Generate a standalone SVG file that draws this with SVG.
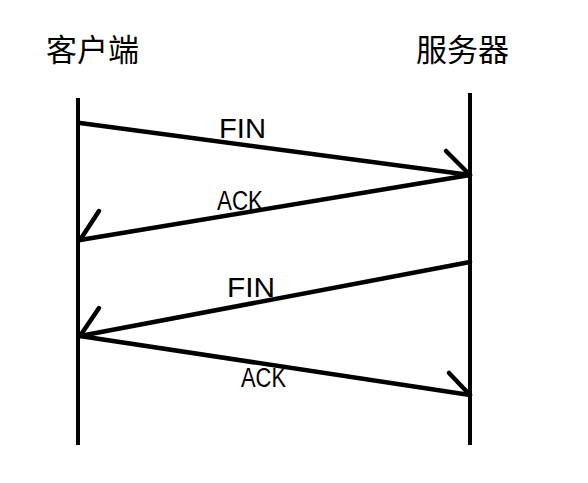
<svg xmlns="http://www.w3.org/2000/svg" width="588" height="483" viewBox="0 0 588 483">
<style>
.life{stroke:#000;stroke-width:4;fill:none}
.msg{stroke:#000;stroke-width:4.5;fill:none;stroke-linecap:round}
.title{font-family:"Noto Sans CJK SC",sans-serif;font-size:31px;fill:#000}
.lbl{font-family:"Liberation Sans",sans-serif;font-size:27px;fill:#000}
</style>
<rect width="588" height="483" fill="#fff"/>
<g id="client">
<text class="title" x="46" y="61">客户端</text>
<line class="life" x1="78" y1="98" x2="78" y2="445"/>
</g>
<g id="server">
<text class="title" x="416" y="61">服务器</text>
<line class="life" x1="470" y1="93" x2="470" y2="445"/>
</g>
<g id="connectors">
<g id="fin1">
<line class="msg" x1="80" y1="123" x2="470" y2="175"/>
<line class="msg" x1="446" y1="151" x2="470" y2="175"/>
<text class="lbl" x="219" y="138" textLength="47" lengthAdjust="spacingAndGlyphs">FIN</text>
</g>
<g id="ack1">
<line class="msg" x1="470" y1="175" x2="80" y2="240"/>
<line class="msg" x1="99" y1="211" x2="80" y2="240"/>
<text class="lbl" x="217" y="210" textLength="46" lengthAdjust="spacingAndGlyphs">ACK</text>
</g>
<g id="fin2">
<line class="msg" x1="470" y1="262" x2="80" y2="336"/>
<line class="msg" x1="99" y1="308" x2="80" y2="336"/>
<text class="lbl" x="227" y="297" textLength="48" lengthAdjust="spacingAndGlyphs">FIN</text>
</g>
<g id="ack2">
<line class="msg" x1="80" y1="336" x2="470" y2="395"/>
<line class="msg" x1="449" y1="373" x2="470" y2="395"/>
<text class="lbl" x="241" y="387" textLength="45" lengthAdjust="spacingAndGlyphs">ACK</text>
</g>
</g>
</svg>
